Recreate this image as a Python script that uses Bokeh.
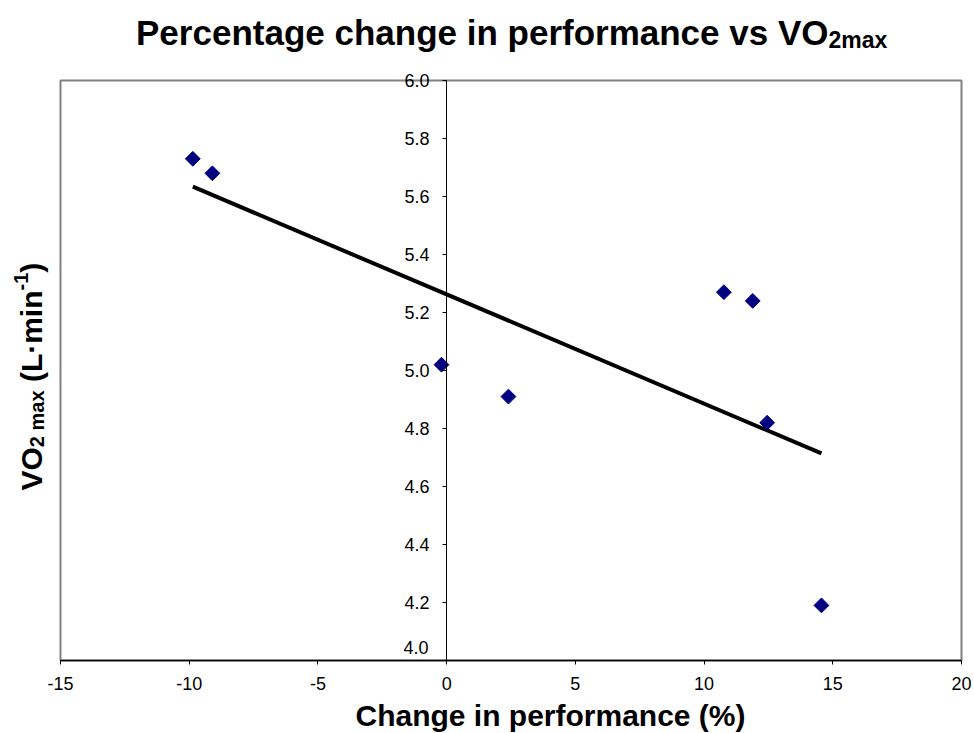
import numpy as np
from bokeh.plotting import figure
from bokeh.models import Range1d, LinearAxis, FixedTicker, PrintfTickFormatter, Label
from bokeh.embed import file_html
from bokeh.resources import INLINE

# ---- data ----
perf_change = [-9.86, -9.10, -0.20, 2.40, 10.77, 11.89, 12.45, 14.56]
vo2max = [5.73, 5.68, 5.02, 4.91, 5.27, 5.24, 4.82, 4.19]
x_ticks = [-15, -10, -5, 0, 5, 10, 15, 20]
y_ticks = [4.0, 4.2, 4.4, 4.6, 4.8, 5.0, 5.2, 5.4, 5.6, 5.8, 6.0]

# linear trend line (least squares over the data)
slope, intercept = np.polyfit(perf_change, vo2max, 1)
trend_x = [min(perf_change), max(perf_change)]
trend_y = [slope * v + intercept for v in trend_x]

FONT = "Liberation Sans"
W, H = 974, 733
# plot-area box in canvas pixels
PA_LEFT, PA_RIGHT, PA_TOP, PA_BOTTOM = 60, 961, 80, 660

x0, x1 = x_ticks[0], x_ticks[-1]
y0, y1 = y_ticks[0], y_ticks[-1]
xs = (PA_RIGHT - PA_LEFT) / (x1 - x0)
ys = (PA_BOTTOM - PA_TOP) / (y1 - y0)
x_range = Range1d(x0 - PA_LEFT / xs, x1 + (W - PA_RIGHT) / xs)
y_range = Range1d(y0 - (H - PA_BOTTOM) / ys, y1 + PA_TOP / ys)

p = figure(width=W, height=H, output_backend="svg", toolbar_location=None,
           x_range=x_range, y_range=y_range,
           x_axis_location=None, y_axis_location=None, min_border=0)
p.background_fill_color = "white"
p.border_fill_color = "white"
p.outline_line_color = None
p.grid.visible = False

# plot-area border (gray)
p.quad(left=[x0], right=[x1], bottom=[y0], top=[y1], fill_color=None,
       line_color="#808080", line_width=2)

# trend line and points
p.line(trend_x, trend_y, line_color="black", line_width=4)
p.scatter(perf_change, vo2max, marker="square", angle=np.pi / 4, size=10.5,
          fill_color="#000080", line_color="#000080")

# x axis along the bottom of the plot area
xaxis = LinearAxis(ticker=FixedTicker(ticks=x_ticks), fixed_location=y0,
                   bounds=(x0, x1), formatter=PrintfTickFormatter(format="%d"))
xaxis.axis_line_color = "black"
xaxis.axis_line_width = 1.5
xaxis.major_tick_in = 0
xaxis.major_tick_out = 4
xaxis.major_tick_line_color = "black"
xaxis.minor_tick_line_color = None
xaxis.major_label_text_font = FONT
xaxis.major_label_text_font_size = "18px"
xaxis.major_label_text_color = "black"
xaxis.major_label_standoff = 12
p.add_layout(xaxis, "below")

# y axis crossing at x = 0 (the 4.0 label is lifted off the x axis, as in the reference)
yaxis = LinearAxis(ticker=FixedTicker(ticks=y_ticks), fixed_location=0,
                   bounds=(y0, y1), formatter=PrintfTickFormatter(format="%.1f"))
yaxis.major_label_overrides = {y0: ""}
yaxis.axis_line_color = "black"
yaxis.axis_line_width = 1
yaxis.major_tick_in = 0
yaxis.major_tick_out = 4
yaxis.major_tick_line_color = "black"
yaxis.minor_tick_line_color = None
yaxis.major_label_text_font = FONT
yaxis.major_label_text_font_size = "18px"
yaxis.major_label_text_color = "black"
yaxis.major_label_standoff = 13
p.add_layout(yaxis, "left")


def lab(text, cx, cy, size, align="left", angle=0.0, style="bold"):
    """Label placed by canvas pixel position (frame covers the whole canvas)."""
    p.add_layout(Label(x=cx, y=H - cy, x_units="screen", y_units="screen",
                       text=text, text_font=FONT, text_font_style=style,
                       text_font_size=f"{size}px", text_color="black",
                       text_align=align, text_baseline="alphabetic", angle=angle))


lab("%.1f" % y0, 428, 647, 18, align="right", style="normal")

# title with subscript
lab("Percentage change in performance vs VO", 828, 32, 35, align="right")
lab("2max", 828, 39, 23, align="left")

# x axis title
lab("Change in performance (%)", 550, 715, 30, align="center")

# y axis title (rotated, with subscript and superscript)
adv = {"V": 667, "O": 778, "2": 556, " ": 278, "m": 889, "a": 556, "x": 556,
       "(": 333, "L": 611, "·": 333, "i": 278, "n": 611, "-": 333, "1": 556, ")": 333}


def width(s, size):
    return sum(adv[c] for c in s) * size / 1000.0


MAIN, SMALL = 30, 20
base_x = 31
# (text, size, shift of baseline in px, gap before it in px)
pieces = [("VO", MAIN, 0, 0), ("2 max", SMALL, 5, 0), ("(L·min", MAIN, 0, width(" ", MAIN)),
          ("-1", SMALL, -11, 0), (")", MAIN, 0, 0)]
cy = 490
for txt, sz, shift, gap in pieces:
    cy -= gap
    lab(txt, base_x + shift, cy, sz, align="left", angle=np.pi / 2)
    cy -= width(txt, sz)

open("out.html", "w").write(file_html(p, INLINE))
